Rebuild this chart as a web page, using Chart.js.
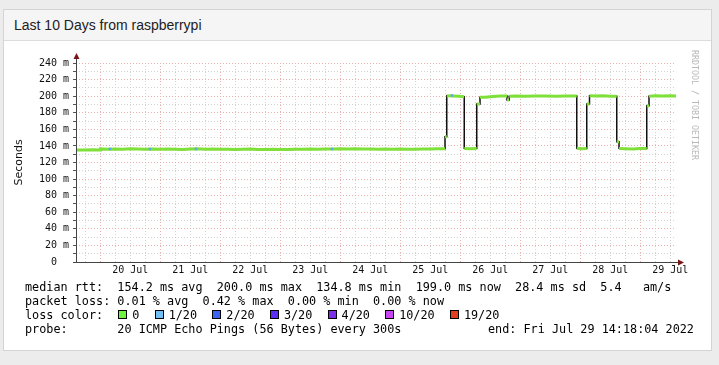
<!DOCTYPE html>
<html>
<head>
<meta charset="utf-8">
<title>Last 10 Days from raspberrypi</title>
<script src="https://cdn.jsdelivr.net/npm/chart.js@4.4.0/dist/chart.umd.min.js"></script>
<style>
html, body { margin: 0; padding: 0; width: 719px; height: 365px; overflow: hidden; background: #ececec; }
#painel { position: absolute; left: 3px; top: 9px; width: 707px; height: 340px; background: #fff; border: 1px solid #d4d4d4; }
#cabecalho { height: 30px; line-height: 30px; padding-left: 10px; background: #f5f5f5; border-bottom: 1px solid #dcdcdc;
  font-family: 'Liberation Sans', Arial, sans-serif; font-size: 14px; color: #222; }
#grafico { position: absolute; left: 0; top: 0; z-index: 2; }
.legenda { position: absolute; left: 25px; top: 280px; font-family: 'DejaVu Sans Mono', monospace; font-size: 11.8px;
  line-height: 14px; white-space: pre; color: #000; z-index: 3; }
.caixa { display: inline-block; width: 13px; margin-left: 2px; height: 10px; position: relative; vertical-align: -1px; }
.caixa i { position: absolute; left: -1px; top: 0; width: 7px; height: 7px; border: 1px solid #000; }
#fim { position: absolute; left: 488px; top: 322px; font-family: 'DejaVu Sans Mono', monospace; font-size: 11.8px;
  line-height: 14px; white-space: pre; color: #000; z-index: 3; }
#marca { position: absolute; left: 690px; top: 50px; writing-mode: vertical-rl; font-family: 'DejaVu Sans Mono', monospace;
  font-size: 8.3px; color: #b8b8b8; z-index: 3; }
</style>
</head>
<body>
<div id="painel"><div id="cabecalho">Last 10 Days from raspberrypi</div></div>
<canvas id="grafico" width="719" height="365"></canvas>
<div class="legenda">median rtt:  154.2 ms avg  200.0 ms max  134.8 ms min  199.0 ms now  28.4 ms sd  5.4   am/s
packet loss: 0.01 % avg  0.42 % max  0.00 % min  0.00 % now
loss color:  <span class="caixa"><i style="background:#70f040"></i></span>0  <span class="caixa"><i style="background:#70bff5"></i></span>1/20  <span class="caixa"><i style="background:#3a64f2"></i></span>2/20  <span class="caixa"><i style="background:#5a2ef2"></i></span>3/20  <span class="caixa"><i style="background:#7a30e6"></i></span>4/20  <span class="caixa"><i style="background:#c846f2"></i></span>10/20  <span class="caixa"><i style="background:#e2401e"></i></span>19/20
probe:       20 ICMP Echo Pings (56 Bytes) every 300s</div>
<div id="fim">end: Fri Jul 29 14:18:04 2022</div>
<div id="marca">RRDTOOL / TOBI OETIKER</div>
<script>
// horas contadas a partir de 19 Jul 00:00
var inicio = 14.3;
var fim = 254.3;

var tempo = [14.3, 18, 21, 23.9, 24.1, 27, 30, 33, 36, 39, 42, 45, 48, 51, 54, 57, 60, 63, 66, 69, 72, 75, 78, 81, 84,
  87, 90, 93, 96, 99, 102, 105, 108, 111, 114, 117, 120, 123, 126, 129, 132, 135, 138, 141, 144, 147, 150, 153, 156,
  159, 161.9, 161.9, 162.6, 162.6, 165, 167.5, 169.6, 169.6, 172, 174.6, 174.6, 175.9, 175.9, 178, 181, 184, 186.7,
  186.7, 187.6, 187.6, 190, 194, 198, 202, 206, 210, 214.6, 214.6, 216.5, 218.6, 218.6, 219.7, 219.7, 222, 225, 228,
  230.6, 230.6, 231.5, 231.5, 234, 237, 240, 242.6, 242.6, 243.5, 243.5, 246, 249, 252, 254.3];

var rtt = [135.2, 135.0, 135.3, 135.1, 136.4, 136.0, 136.3, 136.1, 136.6, 136.2, 135.9, 136.3, 136.0, 136.4, 136.1,
  135.8, 136.2, 136.5, 136.0, 136.2, 135.9, 136.1, 135.7, 135.9, 136.2, 135.8, 135.6, 135.9, 135.7, 135.8, 136.1,
  136.0, 136.3, 136.1, 136.4, 136.2, 136.5, 136.3, 136.6, 136.2, 136.4, 136.1, 136.3, 136.0, 136.2, 135.9, 136.1,
  136.4, 136.2, 136.5, 136.6, 151, 151, 200.6, 200.2, 199.8, 199.4, 137, 136.6, 137, 190.5, 190.5, 198.6, 198.8,
  199.6, 200.1, 200.2, 195.5, 195.5, 200, 200.2, 200.0, 200.3, 200.1, 199.9, 200.2, 200.3, 137.2, 136.6, 136.9,
  190.6, 190.6, 200.4, 200.2, 200.5, 199.9, 200, 145, 145, 137, 136.7, 136.4, 136.8, 136.9, 188.3, 188.3, 200,
  200.4, 200.2, 200.5, 200.3];

// pontos com perda 1/20
var perdaTempo = [27.9, 43.9, 62.3, 116.7, 164.7];
var perdaRtt = [136.4, 136.3, 136.4, 136.3, 200.8];

var rotulosDias = ['20 Jul', '21 Jul', '22 Jul', '23 Jul', '24 Jul', '25 Jul', '26 Jul', '27 Jul', '28 Jul', '29 Jul'];
var meioDiaPrimeiro = 36;

var verde = '#7fe03a';
var rosa = '#eab0b0';
var cinza = '#d2d2d2';

var pontos = [];
for (var i = 0; i < tempo.length; i++) {
    pontos.push({ x: tempo[i], y: rtt[i] });
}
var pontosPerda = [];
for (var j = 0; j < perdaTempo.length; j++) {
    pontosPerda.push({ x: perdaTempo[j], y: perdaRtt[j] });
}

// eixos com setas, no estilo do rrdtool
const setas = {
    id: 'setas',
    afterDraw(chart) {
        const ctx = chart.ctx;
        const a = chart.chartArea;
        ctx.save();
        ctx.strokeStyle = '#444';
        ctx.lineWidth = 1;
        ctx.beginPath();
        ctx.moveTo(a.left + 0.5, a.bottom + 1);
        ctx.lineTo(a.left + 0.5, a.top - 5);
        ctx.moveTo(a.left - 3, a.bottom + 0.5);
        ctx.lineTo(a.right + 3, a.bottom + 0.5);
        ctx.stroke();
        ctx.fillStyle = '#7a1414';
        ctx.beginPath();
        ctx.moveTo(a.left + 0.5, a.top - 10);
        ctx.lineTo(a.left - 2.5, a.top - 4);
        ctx.lineTo(a.left + 3.5, a.top - 4);
        ctx.closePath();
        ctx.fill();
        ctx.beginPath();
        ctx.moveTo(a.right + 8, a.bottom + 0.5);
        ctx.lineTo(a.right + 2, a.bottom - 2.5);
        ctx.lineTo(a.right + 2, a.bottom + 3.5);
        ctx.closePath();
        ctx.fill();
        ctx.restore();
    }
};

const config = {
    type: 'line',
    data: {
        datasets: [{
            label: 'median rtt',
            data: pontos,
            borderColor: verde,
            borderWidth: 3,
            pointRadius: 0,
            order: 1,
            segment: {
                borderColor: function (c) {
                    return c.p0.parsed.x === c.p1.parsed.x ? 'rgba(0,0,0,0)' : verde;
                }
            }
        }, {
            label: 'median',
            data: pontos,
            borderColor: '#111',
            borderWidth: 1.5,
            pointRadius: 0,
            order: 2
        }, {
            label: 'loss 1/20',
            data: pontosPerda,
            showLine: false,
            pointStyle: 'rect',
            pointRadius: 1.8,
            pointBackgroundColor: '#5aaaf0',
            pointBorderWidth: 0,
            order: 0
        }]
    },
    options: {
        responsive: false,
        animation: false,
        layout: {
            padding: { top: 63, right: 43, bottom: 83, left: 0 }
        },
        plugins: {
            legend: { display: false },
            tooltip: { enabled: false }
        },
        scales: {
            x: {
                type: 'linear',
                min: inicio,
                max: fim,
                afterBuildTicks: function (escala) {
                    var lista = [];
                    for (var h = 18; h <= fim; h += 6) {
                        lista.push({ value: h });
                    }
                    escala.ticks = lista;
                },
                afterFit: function (escala) {
                    escala.height = 20;
                },
                ticks: {
                    autoSkip: false,
                    maxRotation: 0,
                    padding: 2,
                    color: '#111',
                    font: { family: 'DejaVu Sans Mono', size: 10 },
                    callback: function (v) {
                        if ((v - meioDiaPrimeiro) % 24 === 0) {
                            return rotulosDias[(v - meioDiaPrimeiro) / 24];
                        }
                        return '';
                    }
                },
                grid: {
                    drawTicks: false,
                    color: function (c) {
                        return c.tick && c.tick.value % 24 === 0 ? rosa : cinza;
                    }
                },
                border: { display: false, dash: [1, 2] }
            },
            y: {
                min: 0,
                max: 240,
                afterFit: function (escala) {
                    escala.width = 76;
                },
                ticks: {
                    stepSize: 10,
                    autoSkip: false,
                    padding: 4,
                    color: '#111',
                    font: { family: 'DejaVu Sans Mono', size: 10 },
                    callback: function (v) {
                        if (v === 0) return '0  ';
                        return v % 20 === 0 ? v + ' m' : '';
                    }
                },
                grid: {
                    tickLength: 3,
                    tickColor: '#555',
                    color: function (c) {
                        return c.tick && c.tick.value % 20 === 0 ? rosa : cinza;
                    }
                },
                border: { display: false, dash: [1, 2] },
                title: {
                    display: true,
                    text: 'Seconds',
                    color: '#111',
                    padding: { top: 13, bottom: 0 },
                    font: { family: 'DejaVu Sans', size: 11 }
                }
            }
        }
    },
    plugins: [setas]
};

let grafico = new Chart(document.getElementById('grafico'), config);
</script>
</body>
</html>
